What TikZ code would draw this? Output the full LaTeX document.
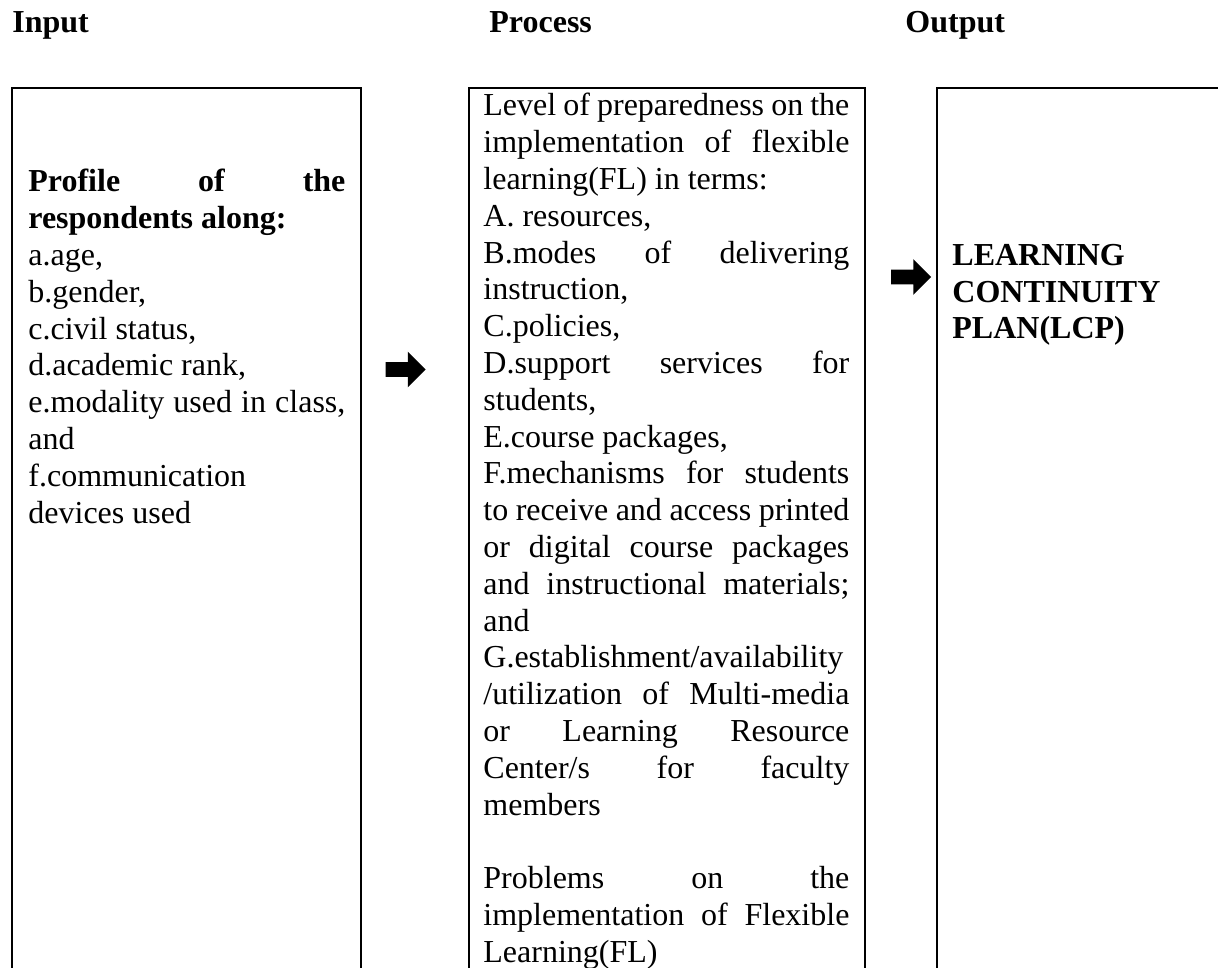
\documentclass[tikz,border=0pt]{standalone}
\usepackage{fontspec}
\setmainfont{Liberation Serif}
\usetikzlibrary{shapes.arrows}
\hbadness=10000
\hfuzz=20pt

\begin{document}
\begin{tikzpicture}[
    x=0.5pt, y=-0.5pt,
    font=\fontsize{16pt}{18.4pt}\selectfont,
    panel/.style={draw=black, line width=1pt},
    head/.style={anchor=base west, inner sep=0pt, font=\fontsize{16pt}{18.4pt}\selectfont\bfseries},
    body/.style={anchor=base west, inner sep=0pt, align=justify},
    fwd/.style={single arrow, fill=black, draw=none, inner xsep=0pt, inner ysep=3.5pt,
                minimum height=20pt, single arrow head extend=5.25pt}
]
    \useasboundingbox (0,0) rectangle (1218,967);
    \clip (0,0) rectangle (1218,967);

    % column headings
    \node[head] (h_in) at (12,33) {Input};
    \node[head] (h_proc) at (489,33) {Process};
    \node[head] (h_out) at (905,33) {Output};

    % the three panels (they run past the page)
    \coordinate (in_nw) at (12,88);
    \coordinate (in_se) at (361,1000);
    \coordinate (proc_nw) at (469,88);
    \coordinate (proc_se) at (865,1000);
    \coordinate (out_nw) at (937,88);
    \coordinate (out_se) at (1300,1000);
    \draw[panel] (in_nw) rectangle (in_se);
    \draw[panel] (proc_nw) rectangle (proc_se);
    \draw[panel] (out_nw) rectangle (out_se);

    % Input
    \node[body, text width=158.5pt] (t_in) at (28,192) {%
        \textbf{Profile of the\linebreak respondents along:}\par
        a.age,\par
        b.gender,\par
        c.civil status,\par
        d.academic rank,\par
        e.modality used in class,\linebreak and\par
        f.communication\linebreak devices used};

    % Process
    \node[body, text width=183pt] (t_proc) at (483,116) {%
        Level of preparedness on the\linebreak implementation of flexible\linebreak learning(FL) in terms:\par
        A. resources,\par
        B.modes of delivering\linebreak instruction,\par
        C.policies,\par
        D.support services for\linebreak students,\par
        E.course packages,\par
        F.mechanisms for students\linebreak to receive and access printed\linebreak or digital course packages\linebreak and instructional materials;\linebreak and\par
        G.establishment/availability\linebreak /utilization of Multi-media\linebreak or Learning Resource\linebreak Center/s for faculty\linebreak members\par
        \mbox{}\par
        Problems on the\linebreak implementation of Flexible\linebreak Learning(FL)};

    % Output (base = last line)
    \node[body, align=left, font=\fontsize{16pt}{18.4pt}\selectfont\bfseries] (t_out) at (952,339)
        {LEARNING\\ CONTINUITY\\ PLAN(LCP)};

    % block arrows between the panels
    \node[fwd] (a1) at (402,369.5) {};
    \node[fwd] (a2) at (907.5,277) {};

\end{tikzpicture}
\end{document}
